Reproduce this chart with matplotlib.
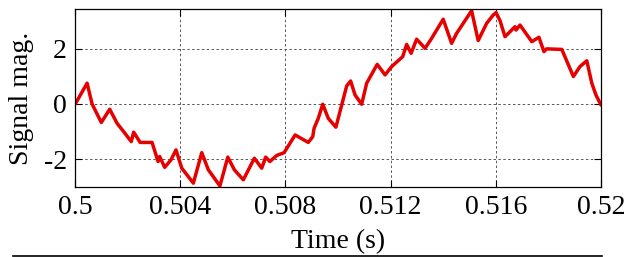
import matplotlib
matplotlib.use("Agg")
import matplotlib.pyplot as plt
from matplotlib.lines import Line2D

time_s = [0.50001, 0.50046, 0.50065, 0.50100, 0.50132, 0.50160, 0.50185, 0.50214,
          0.50223, 0.50248, 0.50293, 0.50316, 0.50322, 0.50341, 0.50365, 0.50384,
          0.50406, 0.50450, 0.50482, 0.50507, 0.50551, 0.50581, 0.50606, 0.50640,
          0.50682, 0.50710, 0.50725, 0.50741, 0.50767, 0.50795, 0.50837, 0.50887,
          0.50904, 0.50909, 0.50925, 0.50942, 0.50963, 0.50992, 0.51014, 0.51033,
          0.51048, 0.51065, 0.51090, 0.51109, 0.51149, 0.51179, 0.51204, 0.51246,
          0.51261, 0.51278, 0.51299, 0.51331, 0.51356, 0.51400, 0.51432, 0.51451,
          0.51508, 0.51533, 0.51565, 0.51590, 0.51601, 0.51616, 0.51635, 0.51673,
          0.51677, 0.51692, 0.51737, 0.51764, 0.51783, 0.51793, 0.51851, 0.51895,
          0.51920, 0.51946, 0.51965, 0.51981, 0.52000]
signal = [0.00, 0.75, 0.00, -0.67, -0.19, -0.70, -1.00, -1.36,
          -1.02, -1.39, -1.39, -2.08, -1.90, -2.29, -2.02, -1.66,
          -2.32, -2.86, -1.76, -2.38, -2.96, -1.92, -2.38, -2.74,
          -1.96, -2.32, -1.92, -2.08, -1.86, -1.76, -1.12, -1.39,
          -1.18, -0.88, -0.52, -0.01, -0.52, -0.84, -0.04, 0.65,
          0.83, 0.32, -0.01, 0.75, 1.43, 1.05, 1.35, 1.71,
          2.15, 1.83, 2.34, 2.01, 2.37, 3.06, 2.19, 2.55,
          3.37, 2.29, 2.91, 3.21, 3.30, 3.01, 2.43, 2.79,
          2.67, 2.85, 2.25, 2.41, 1.89, 1.99, 1.97, 0.99,
          1.35, 1.56, 0.75, 0.32, -0.04]

x_ticks = [0.5, 0.504, 0.508, 0.512, 0.516, 0.52]
x_tick_labels = ["0.5", "0.504", "0.508", "0.512", "0.516", "0.52"]
y_ticks = [-2, 0, 2]
y_tick_labels = ["-2", "0", "2"]

plt.rcParams['font.family'] = ['Liberation Serif', 'DejaVu Serif']

fig = plt.figure(figsize=(6.24, 2.57), dpi=100)
ax = fig.add_axes([75/624, 1-187/257, (601-75)/624, (187-9)/257])

ax.plot(time_s, signal, color=(0.9, 0.0, 0.0), lw=2.5,
        solid_joinstyle='round', solid_capstyle='round')
ax.set_xlim(0.5, 0.52)
ax.set_ylim(-3.0, 3.43)
ax.set_xticks(x_ticks)
ax.set_xticklabels(x_tick_labels)
ax.set_yticks(y_ticks)
ax.set_yticklabels(y_tick_labels)
ax.grid(True, color='#555555', linestyle=(0, (2.5, 2.5)), linewidth=0.7)
ax.tick_params(direction='in', top=True, right=True, length=5, width=0.8,
               labelsize=20, pad=6)
for s in ax.spines.values():
    s.set_linewidth(0.9)
ax.set_xlabel("Time (s)", fontsize=20, labelpad=6)
ax.set_ylabel("Signal mag.", fontsize=20, labelpad=7)

fig.add_artist(Line2D([13/624, 602/624], [1-255.7/257, 1-255.7/257],
                      transform=fig.transFigure, color='black', lw=1.2))

fig.savefig("out.png", dpi=100)
